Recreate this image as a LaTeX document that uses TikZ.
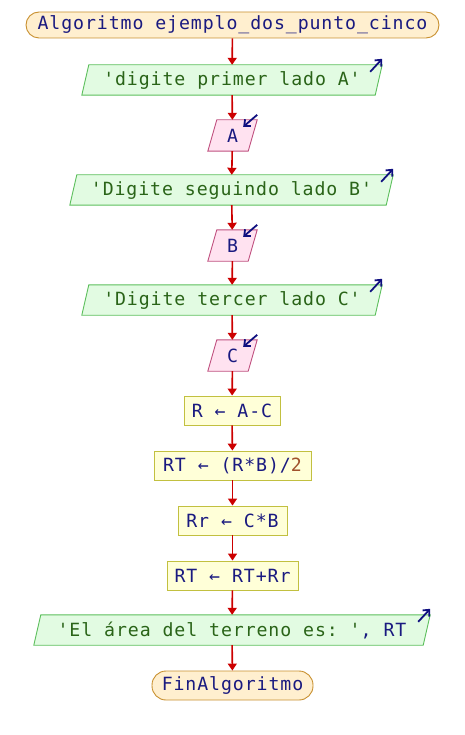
\documentclass[tikz,border=0pt]{standalone}
\usepackage{fontspec}
\setmonofont[LetterSpace=5]{DejaVu Sans Mono}
\usetikzlibrary{arrows.meta}
\definecolor{idc}{HTML}{1A1A80}
\definecolor{strc}{HTML}{2A6418}
\definecolor{numc}{HTML}{A0522D}
\definecolor{termfill}{HTML}{FFEFCF}
\definecolor{termdraw}{HTML}{C8902F}
\definecolor{outfill}{HTML}{E2FBE2}
\definecolor{outdraw}{HTML}{5CBF5C}
\definecolor{infill}{HTML}{FFE2F0}
\definecolor{indraw}{HTML}{C0507F}
\definecolor{procfill}{HTML}{FFFFD8}
\definecolor{procdraw}{HTML}{C2C040}
\definecolor{flowc}{HTML}{CC0000}
\definecolor{iconc}{HTML}{101080}
\newcommand\idt[1]{\textcolor{idc}{#1}}
\newcommand\strt[1]{\textcolor{strc}{#1}}
\newcommand\numt[1]{\textcolor{numc}{#1}}
\tikzset{
  base/.style={inner sep=0pt, font=\ttfamily\fontsize{18.2}{20}\selectfont, text=idc},
  termbox/.style={base, draw=termdraw, fill=termfill, rounded corners=13pt, line width=0.9pt, minimum height=26pt},
  procbox/.style={base, draw=procdraw, fill=procfill, line width=0.9pt, minimum height=29pt},
  plainbox/.style={base, minimum height=30pt},
  outshape/.style={draw=outdraw, fill=outfill, line width=0.9pt},
  inshape/.style={draw=indraw, fill=infill, line width=0.9pt},
  flow/.style={draw=flowc, line width=1.6pt, -{Triangle[length=7pt,width=9pt]}},
  icon/.style={draw=iconc, line width=1.8pt, -{Straight Barb[length=5pt,width=9pt]}},
}
\newcommand\paral[3]{% node, slant, style
  \path[#3] ([xshift=#2]#1.north west) -- ([xshift=#2]#1.north east) -- ([xshift=-#2]#1.south east) -- ([xshift=-#2]#1.south west) -- cycle;}
\begin{document}
\begin{tikzpicture}[x=1pt,y=-1pt]
\useasboundingbox (0,0) rectangle (464,735);
\node[termbox, minimum width=413pt] (start) at (232.5,25) {Algoritmo ejemplo\_dos\_punto\_cinco};
\node[plainbox, minimum width=293pt] (o1) at (232,80) {};
\node[plainbox, minimum width=40pt, minimum height=31pt] (iA) at (232.5,135.5) {};
\node[plainbox, minimum width=316pt] (o2) at (231.5,190) {};
\node[plainbox, minimum width=40pt, minimum height=31pt] (iB) at (232.5,245.5) {};
\node[plainbox, minimum width=293pt] (o3) at (232,300) {};
\node[plainbox, minimum width=40pt, minimum height=31pt] (iC) at (232.5,355.5) {};
\node[procbox, minimum width=96pt] (p1) at (232,410.5) {R ← A-C};
\node[procbox, minimum width=157pt] (p2) at (232.5,465.5) {RT ← (R*B)/\numt{2}};
\node[procbox, minimum width=109pt] (p3) at (232.5,520.5) {Rr ← C*B};
\node[procbox, minimum width=131pt] (p4) at (232.5,575.5) {RT ← RT+Rr};
\node[plainbox, minimum width=389pt] (o4) at (232,630) {};
\node[termbox, minimum width=161pt, minimum height=29pt, rounded corners=14pt] (end) at (232.5,685.5) {FinAlgoritmo};
% parallelogram shapes
\foreach \n in {o1,o2,o3,o4}{\paral{\n}{3.5pt}{outshape}}
\foreach \n in {iA,iB,iC}{\paral{\n}{4.5pt}{inshape}}
% texts on top
\node[base] (t1) at (o1) {\strt{'digite primer lado A'}};
\node[base] (tA) at (iA) {A};
\node[base] (t2) at (o2) {\strt{'Digite seguindo lado B'}};
\node[base] (tB) at (iB) {B};
\node[base] (t3) at (o3) {\strt{'Digite tercer lado C'}};
\node[base] (tC) at (iC) {C};
\node[base] (t4) at (o4) {\strt{'El área del terreno es: '}, RT};
% icons
\foreach \n in {o1,o2,o3,o4}{
  \draw[icon] ([xshift=-8.5pt,yshift=-7pt]\n.north east) -- ([xshift=3.5pt,yshift=6pt]\n.north east);}
\foreach \n in {iA,iB,iC}{
  \draw[icon] ([xshift=4.5pt,yshift=5pt]\n.north east) -- ([xshift=-9.5pt,yshift=-7pt]\n.north east);}
% flow
\draw[flow] (start) -- (o1);
\draw[flow] (o1) -- (iA);
\draw[flow] (iA) -- (o2);
\draw[flow] (o2) -- (iB);
\draw[flow] (iB) -- (o3);
\draw[flow] (o3) -- (iC);
\draw[flow] (iC) -- (p1);
\draw[flow] (p1) -- (p2);
\draw[flow] (p2) -- (p3);
\draw[flow] (p3) -- (p4);
\draw[flow] (p4) -- (o4);
\draw[flow] (o4) -- (end);
\end{tikzpicture}
\end{document}
